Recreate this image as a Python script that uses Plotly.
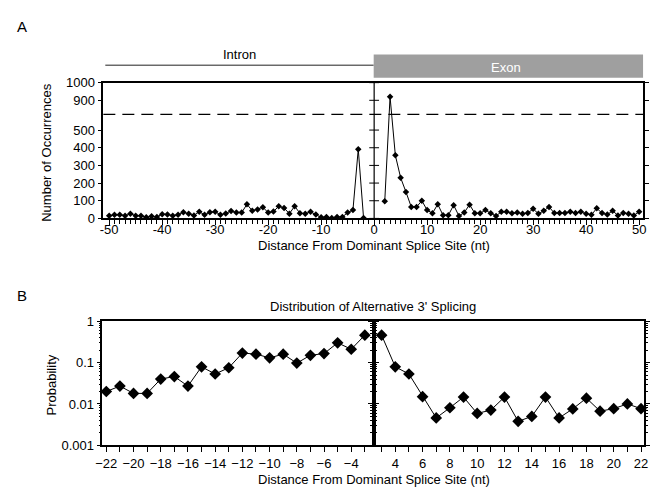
import plotly.graph_objects as go

# ---------------- data ----------------
# Panel A: number of occurrences by distance from dominant splice site
intron_pos = list(range(-50, -1))  # -50 .. -2
intron_counts = [15, 20, 20, 15, 27, 15, 15, 6, 12, 8,
                 24, 22, 15, 20, 35, 27, 17, 38, 20, 35,
                 38, 20, 28, 42, 33, 33, 80, 43, 51, 63,
                 33, 39, 69, 59, 27, 69, 29, 27, 37, 22,
                 6, 8, 3, 8, 8, 33, 47, 392, 3]
exon_pos = list(range(2, 51))  # 2 .. 50
exon_counts = [97, 920, 357, 230, 150, 65, 65, 100, 47, 29,
               80, 18, 18, 75, 14, 33, 78, 29, 29, 47,
               29, 14, 37, 37, 29, 33, 26, 30, 54, 26,
               43, 65, 30, 30, 30, 37, 30, 37, 26, 20,
               57, 30, 22, 43, 17, 30, 26, 17, 37]
a_xticks = list(range(-50, 51, 10))
a_tick_vals = [0, 100, 200, 300, 400, 500, 900, 1000]
a_dash_level = 711

# Panel B: probability of alternative 3' splicing
b_intron_pos = list(range(-22, -2))  # -22 .. -3
b_intron_prob = [0.020, 0.027, 0.018, 0.018, 0.040, 0.046, 0.027, 0.079, 0.053, 0.075,
                 0.17, 0.16, 0.13, 0.16, 0.097, 0.15, 0.165, 0.30, 0.21, 0.46]
b_exon_pos = list(range(3, 23))  # 3 .. 22
b_exon_prob = [0.46, 0.079, 0.053, 0.015, 0.0046, 0.0081, 0.0147, 0.0059, 0.0071, 0.0147,
               0.0038, 0.0050, 0.0147, 0.0046, 0.0076, 0.0138, 0.0067, 0.0077, 0.010, 0.0077]
b_left_ticks = list(range(-22, -3, 2))
b_right_ticks = list(range(4, 23, 2))
b_yticks = [0.001, 0.01, 0.1, 1]
b_yticktext = ["0.001", "0.01", "0.1", "1"]

# ---------------- helpers ----------------
W, H = 650, 496
FONT = "Liberation Sans, Arial, sans-serif"


def px(x):
    return x / W


def py(y):
    return 1 - y / H


COMP = 168.5 / 400.0  # compression of the broken section 500..900


def brk(v):
    if v <= 500:
        return v
    if v <= 900:
        return 500 + (v - 500) * COMP
    return 500 + 400 * COMP + (v - 900)


log_minor = [m * d for d in b_yticks[:-1] for m in range(2, 10)]
a_all_x = list(range(-50, 51))
a_all_x_text = [str(v) if v in a_xticks else "" for v in a_all_x]

fig = go.Figure()

# Panel A traces
for xs, ys in ((intron_pos, intron_counts), (exon_pos, exon_counts)):
    fig.add_trace(go.Scatter(x=xs, y=[brk(v) for v in ys], mode="lines+markers",
                             line=dict(color="black", width=1),
                             marker=dict(symbol="diamond", size=5, color="black"),
                             xaxis="x", yaxis="y", showlegend=False))
# ticks on the middle (position 0) line
fig.add_trace(go.Scatter(x=[0] * len(a_tick_vals), y=[brk(v) for v in a_tick_vals], mode="markers",
                         marker=dict(symbol="line-ew", size=7, line=dict(color="black", width=1)),
                         xaxis="x", yaxis="y", showlegend=False))

# Panel B traces
fig.add_trace(go.Scatter(x=b_intron_pos, y=b_intron_prob, mode="lines+markers",
                         line=dict(color="black", width=1),
                         marker=dict(symbol="diamond", size=9, color="black"),
                         xaxis="x2", yaxis="y2", showlegend=False, cliponaxis=False))
fig.add_trace(go.Scatter(x=b_exon_pos, y=b_exon_prob, mode="lines+markers",
                         line=dict(color="black", width=1),
                         marker=dict(symbol="diamond", size=9, color="black"),
                         xaxis="x3", yaxis="y3", showlegend=False, cliponaxis=False))

tickfont = dict(family=FONT, size=13, color="black")
axline = dict(showline=True, linecolor="black", linewidth=1.5, showgrid=False, zeroline=False)
ylog_minor = dict(tickmode="array", tickvals=log_minor, ticks="outside", ticklen=2,
                  tickcolor="black", tickwidth=0.8, showgrid=False)

fig.update_layout(
    width=W, height=H,
    margin=dict(l=0, r=0, t=0, b=0),
    paper_bgcolor="white", plot_bgcolor="white",
    font=dict(family=FONT, size=13, color="black"),
    # panel A base axis: every integer ticked, labels every 10
    xaxis=dict(domain=[px(98), px(647)], range=[-51.1, 50.74], anchor="y",
               tickmode="array", tickvals=a_all_x, ticktext=a_all_x_text,
               ticks="outside", ticklen=4, tickwidth=1, ticklabelstandoff=-6,
               tickcolor="black", mirror=True, tickfont=tickfont, **axline),
    # panel A overlay axis: longer ticks every 10, no labels
    xaxis4=dict(domain=[px(98), px(647)], range=[-51.1, 50.74], anchor="y", overlaying="x",
                tickmode="array", tickvals=a_xticks, showticklabels=False,
                ticks="outside", ticklen=6, tickwidth=1, tickcolor="black",
                showline=False, showgrid=False, zeroline=False),
    yaxis=dict(domain=[py(218), py(78)], range=[0, brk(1000)], anchor="x",
               tickmode="array", tickvals=[brk(v) for v in a_tick_vals],
               ticktext=[str(v) for v in a_tick_vals],
               ticks="outside", ticklen=4, tickwidth=1, tickcolor="black",
               mirror="allticks", tickfont=tickfont, **axline),
    xaxis2=dict(domain=[px(97), px(373)], range=[-22.29, -2.35], anchor="y2",
                tickmode="array", tickvals=b_left_ticks, ticks="outside", ticklen=5, tickwidth=1,
                tickcolor="black", mirror=True, tickfont=tickfont,
                minor=dict(tickmode="array", tickvals=b_intron_pos, ticks="outside", ticklen=5,
                           tickcolor="black", tickwidth=1, showgrid=False),
                **axline),
    yaxis2=dict(domain=[py(452), py(324)], type="log", range=[-3, 0], anchor="x2",
                tickmode="array", tickvals=b_yticks, ticktext=b_yticktext,
                ticks="outside", ticklen=4, tickwidth=1, tickcolor="black", mirror="allticks",
                minor=ylog_minor, tickfont=tickfont, **axline),
    xaxis3=dict(domain=[px(373), px(648)], range=[2.42, 22.22], anchor="y3",
                tickmode="array", tickvals=b_right_ticks, ticks="outside", ticklen=5, tickwidth=1,
                tickcolor="black", mirror=True, tickfont=tickfont,
                minor=dict(tickmode="array", tickvals=b_exon_pos, ticks="outside", ticklen=5,
                           tickcolor="black", tickwidth=1, showgrid=False),
                **axline),
    yaxis3=dict(domain=[py(452), py(324)], type="log", range=[-3, 0], anchor="x3",
                tickmode="array", tickvals=b_yticks, showticklabels=False,
                ticks="outside", ticklen=4, tickwidth=1, tickcolor="black", mirror="allticks",
                minor=ylog_minor, **axline),
)

# invisible trace to activate the overlay axis
fig.add_trace(go.Scatter(x=[a_xticks[0]], y=[0], mode="markers", marker=dict(opacity=0),
                         xaxis="x4", yaxis="y", showlegend=False, hoverinfo="skip"))

shapes = [
    # middle line panel A at x = 0
    dict(type="line", xref="x", yref="y", x0=0, x1=0, y0=0, y1=brk(1000),
         line=dict(color="black", width=1.2)),
    # dashed level line
    dict(type="line", xref="paper", yref="y", x0=px(98), x1=px(647),
         y0=brk(a_dash_level), y1=brk(a_dash_level),
         line=dict(color="black", width=1.2, dash="12px,7px")),
    # intron bar
    dict(type="line", xref="paper", yref="paper", x0=px(100), x1=px(373), y0=py(60), y1=py(60),
         line=dict(color="#222222", width=1)),
    # exon box
    dict(type="rect", xref="paper", yref="paper", x0=px(373), x1=px(647), y0=py(73), y1=py(49),
         fillcolor="#9f9f9f", line=dict(width=0)),
]
fig.update_layout(shapes=shapes)

ann = [
    dict(text="A", x=px(15), y=py(20), font=dict(size=15)),
    dict(text="B", x=px(15), y=py(298), font=dict(size=15)),
    dict(text="Intron", x=px(236), y=py(49)),
    dict(text="Exon", x=px(508), y=py(62), font=dict(color="white", size=13)),
    dict(text="Distance From Dominant Splice Site (nt)", x=px(373), y=py(246)),
    dict(text="Number of Occurrences", x=px(40), y=py(150), textangle=-90),
    dict(text="Distribution of Alternative 3' Splicing", x=px(372), y=py(309)),
    dict(text="Probability", x=px(45), y=py(390), textangle=-90),
    dict(text="Distance From Dominant Splice Site (nt)", x=px(373), y=py(487)),
]
for a in ann:
    a.setdefault("font", dict(size=13))
    a["font"].setdefault("family", FONT)
    a["font"].setdefault("color", "black")
    fig.add_annotation(xref="paper", yref="paper", xanchor="center", yanchor="middle",
                       showarrow=False, **a)

fig.write_html("out.html")
